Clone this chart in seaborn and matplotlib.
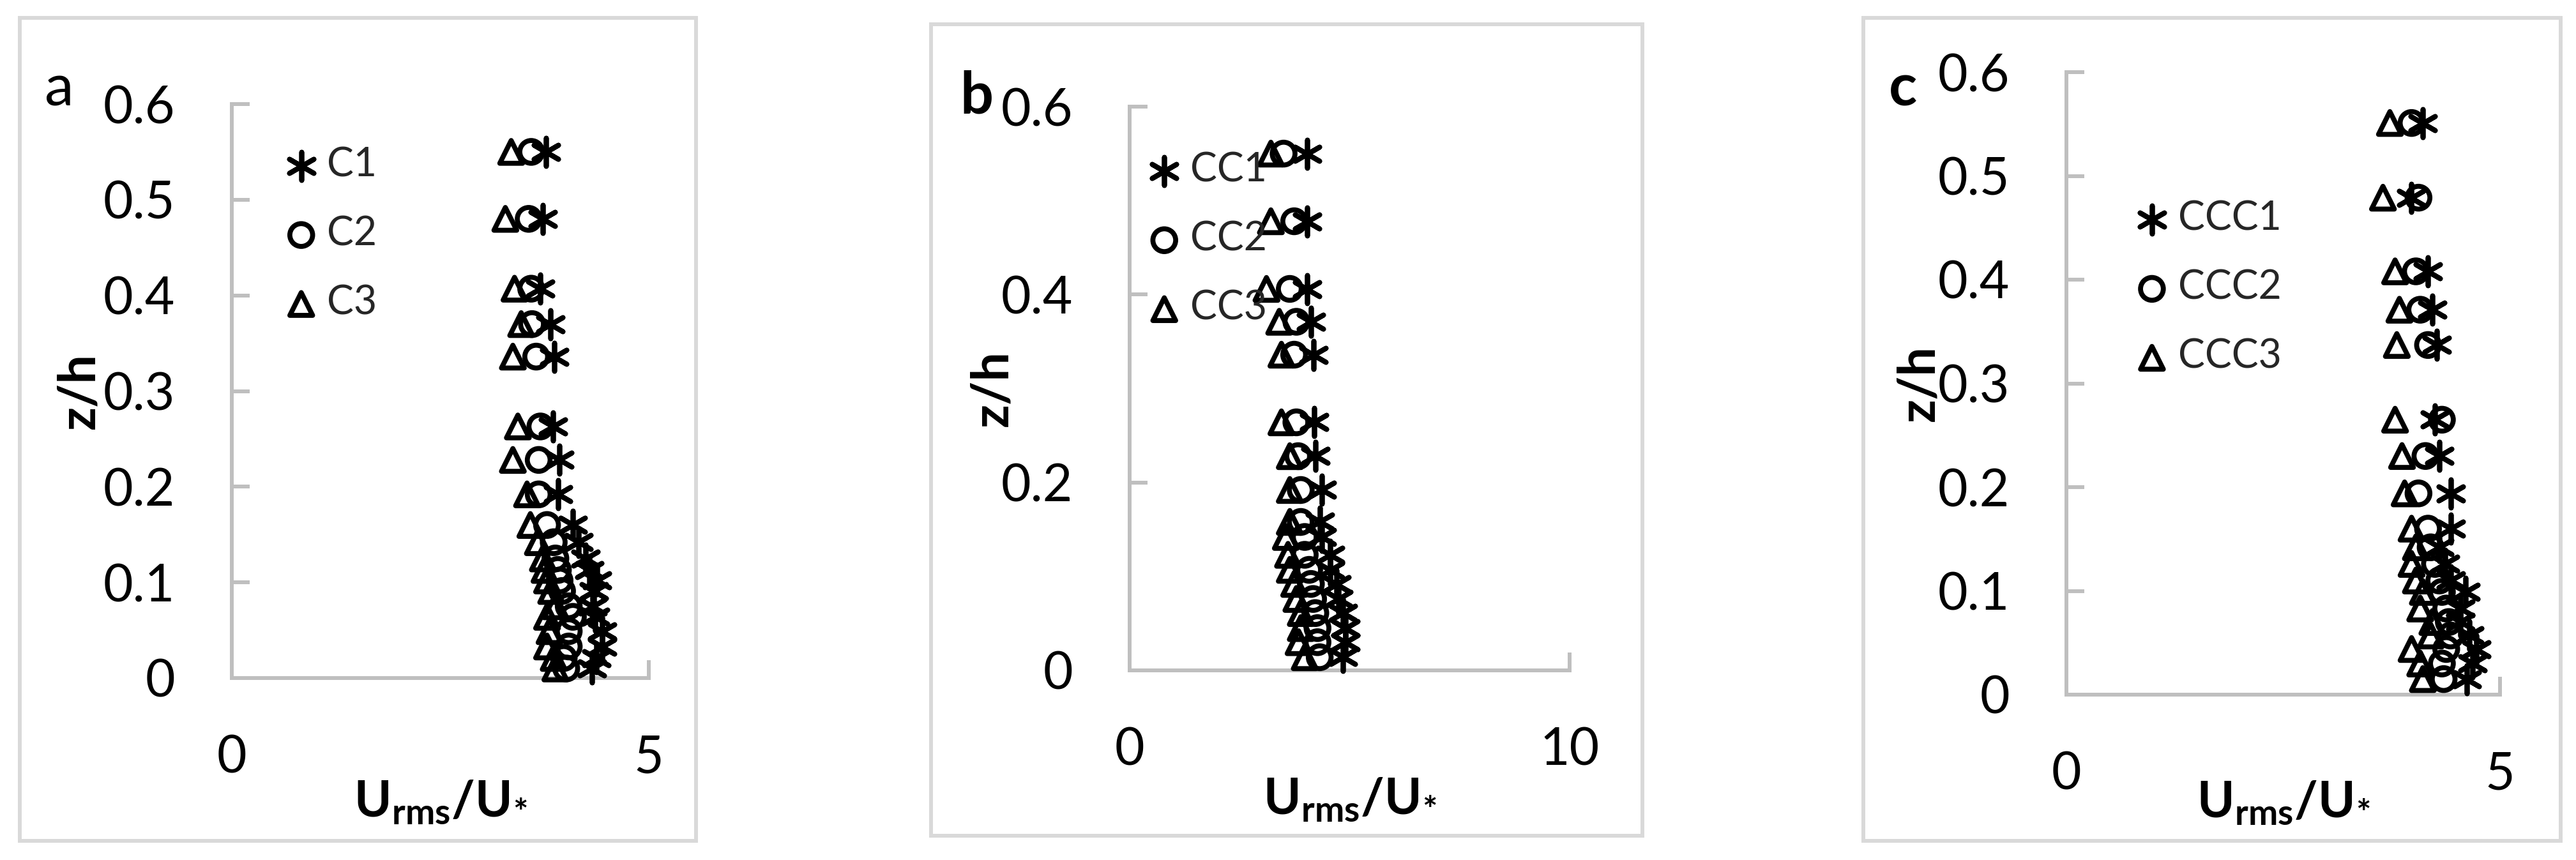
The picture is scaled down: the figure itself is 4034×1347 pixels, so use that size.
import numpy as np
import pandas as pd
import matplotlib
matplotlib.use("Agg")
import matplotlib.pyplot as plt
import seaborn as sns
from matplotlib.patches import Rectangle

# ---------------- data ----------------
z_a = [0.55, 0.48, 0.407, 0.37, 0.336, 0.263, 0.228, 0.192, 0.16, 0.142, 0.125,
       0.113, 0.102, 0.091, 0.075, 0.064, 0.049, 0.033, 0.021, 0.010]
C1 = [3.77, 3.73, 3.70, 3.82, 3.87, 3.85, 3.93, 3.91, 4.09, 4.16, 4.24, 4.29,
      4.38, 4.34, 4.33, 4.36, 4.44, 4.44, 4.37, 4.32]
C2 = [3.59, 3.56, 3.59, 3.60, 3.65, 3.70, 3.68, 3.68, 3.78, 3.86, 3.88, 3.91,
      3.93, 3.96, 4.04, 4.09, 4.04, 4.04, 3.98, 4.01]
C3 = [3.35, 3.28, 3.39, 3.47, 3.37, 3.43, 3.37, 3.54, 3.58, 3.67, 3.73, 3.75,
      3.78, 3.83, 3.88, 3.78, 3.81, 3.78, 3.86, 3.88]

z_b = [0.55, 0.478, 0.406, 0.371, 0.336, 0.264, 0.228, 0.192, 0.158, 0.142,
       0.123, 0.107, 0.092, 0.076, 0.061, 0.045, 0.030, 0.014]
CC1 = [4.03, 4.03, 4.03, 4.12, 4.18, 4.20, 4.22, 4.37, 4.32, 4.37, 4.56, 4.56,
       4.70, 4.75, 4.85, 4.90, 4.90, 4.85]
CC2 = [3.50, 3.74, 3.64, 3.79, 3.74, 3.79, 3.83, 3.89, 3.89, 3.98, 3.98, 4.08,
       4.12, 4.17, 4.22, 4.27, 4.27, 4.32]
CC3 = [3.21, 3.21, 3.11, 3.40, 3.45, 3.45, 3.64, 3.64, 3.64, 3.55, 3.60, 3.64,
       3.74, 3.79, 3.89, 3.89, 3.84, 3.98]

z_c = [0.551, 0.479, 0.408, 0.371, 0.337, 0.265, 0.230, 0.194, 0.160, 0.142,
       0.126, 0.110, 0.099, 0.083, 0.070, 0.057, 0.044, 0.030, 0.015]
CCC1 = [4.11, 3.98, 4.17, 4.22, 4.27, 4.25, 4.30, 4.43, 4.43, 4.30, 4.37, 4.43,
        4.60, 4.54, 4.54, 4.65, 4.73, 4.68, 4.62]
CCC2 = [3.98, 4.06, 4.03, 4.08, 4.17, 4.33, 4.14, 4.06, 4.17, 4.20, 4.25, 4.30,
        4.33, 4.38, 4.41, 4.43, 4.38, 4.33, 4.35]
CCC3 = [3.73, 3.65, 3.79, 3.84, 3.81, 3.79, 3.87, 3.90, 3.98, 4.03, 3.98, 4.03,
        4.11, 4.08, 4.22, 4.20, 3.98, 4.08, 4.11]

xticks_a = [0, 5]
xticks_b = [0, 10]
xticks_c = [0, 5]
yticks_ac = [0, 0.1, 0.2, 0.3, 0.4, 0.5, 0.6]
ytl_ac = ["0", "0.1", "0.2", "0.3", "0.4", "0.5", "0.6"]
yticks_b = [0, 0.2, 0.4, 0.6]
ytl_b = ["0", "0.2", "0.4", "0.6"]

# ---------------- style ----------------
sns.set_theme(style="white")
plt.rcParams['font.family'] = ['Lato', 'DejaVu Sans']
plt.rcParams['mathtext.fontset'] = 'custom'
plt.rcParams['mathtext.rm'] = 'Lato'
plt.rcParams['mathtext.bf'] = 'Lato:bold'
plt.rcParams['mathtext.it'] = 'Lato:italic'

W, H = 4034, 1347
fig = plt.figure(figsize=(W / 100, H / 100), dpi=100)
fig.patch.set_facecolor("white")

AX_GRAY = "#BFBFBF"
FRAME_GRAY = "#D9D9D9"
MS = 660
MS_AST = 1000
MLW = 5.6
AST = (6, 2, 0)


def px_rect(l, r, t, b):
    return [l / W, 1 - b / H, (r - l) / W, (b - t) / H]


panels = [
    dict(rect=px_rect(363, 1016, 163, 1062), z=z_a, s=[C1, C2, C3],
         labels=["C1", "C2", "C3"], xlim=5, xt=xticks_a, yt=yticks_ac, ytl=ytl_ac,
         leg=(0.133, 0.926), ylab_x=-0.366, xlab_y=-0.175,
         frame=(31, 1090, 28, 1317), letter=("a", 93, 165, "normal")),
    dict(rect=px_rect(1769, 2458, 167, 1050), z=z_b, s=[CC1, CC2, CC3],
         labels=["CC1", "CC2", "CC3"], xlim=10, xt=xticks_b, yt=yticks_b, ytl=ytl_b,
         leg=(0.047, 0.92), ylab_x=-0.312, xlab_y=-0.188,
         frame=(1458, 2572, 38, 1309), letter=("b", 1529, 177, "bold")),
    dict(rect=px_rect(3236, 3915, 113, 1088), z=z_c, s=[CCC1, CCC2, CCC3],
         labels=["CCC1", "CCC2", "CCC3"], xlim=5, xt=xticks_c, yt=yticks_ac, ytl=ytl_ac,
         leg=(0.165, 0.794), ylab_x=-0.340, xlab_y=-0.136,
         frame=(2918, 4010, 28, 1317), letter=("c", 2980, 165, "bold")),
]

for p in panels:
    ax = fig.add_axes(p["rect"])
    ax.set_facecolor("none")
    z = p["z"]
    s1, s2, s3 = p["s"]
    l1, l2, l3 = p["labels"]
    sns.scatterplot(x=s1, y=z, marker=AST, s=MS_AST, color="black", linewidth=MLW,
                    ax=ax, label=l1, clip_on=False, zorder=5)
    sns.scatterplot(x=s2, y=z, marker="o", s=MS, color="black", facecolor="none",
                    edgecolor="black", linewidth=MLW, ax=ax, label=l2,
                    clip_on=False, zorder=5)
    sns.scatterplot(x=s3, y=z, marker="^", s=MS, color="black", facecolor="none",
                    edgecolor="black", linewidth=MLW, ax=ax, label=l3,
                    clip_on=False, zorder=5)

    ax.set_xlim(0, p["xlim"])
    ax.set_ylim(0, 0.6)
    ax.set_xticks(p["xt"])
    ax.set_xticklabels([str(v) for v in p["xt"]])
    ax.set_yticks(p["yt"])
    ax.set_yticklabels(p["ytl"])
    ax.tick_params(axis="both", direction="in", length=20, width=4.3,
                   color=AX_GRAY, labelsize=58, pad=64, labelcolor="black")
    ax.tick_params(axis="x", top=False, bottom=True)
    ax.tick_params(axis="y", left=True, right=False)
    sns.despine(ax=ax)
    for sp in ("left", "bottom"):
        ax.spines[sp].set_color(AX_GRAY)
        ax.spines[sp].set_linewidth(4.3)
        ax.spines[sp].set_zorder(1)
    ax.grid(False)

    ax.set_xlabel(r"$\mathbf{U_{rms}/U_{*}}$", fontsize=57, color="black")
    ax.xaxis.set_label_coords(0.5, p["xlab_y"])
    ax.set_ylabel("z/h", fontsize=58, fontweight="bold", color="black", va="center")
    ax.yaxis.set_label_coords(p["ylab_x"], 0.5)

    ax.legend(loc="upper left", bbox_to_anchor=p["leg"], frameon=False,
              fontsize=45, handlelength=0.7, handletextpad=0.3,
              labelspacing=0.8, borderpad=0, borderaxespad=0)

    fl, fr, ft, fb = p["frame"]
    fig.add_artist(Rectangle((fl / W, 1 - fb / H), (fr - fl) / W, (fb - ft) / H,
                             transform=fig.transFigure, fill=False,
                             edgecolor=FRAME_GRAY, linewidth=4.3))
    letter, lx, ly, wt = p["letter"]
    fig.text(lx / W, 1 - ly / H, letter, fontsize=66, fontweight=wt,
             ha="center", va="baseline", color="black")

fig.savefig("out.png", dpi=100, facecolor="white")
